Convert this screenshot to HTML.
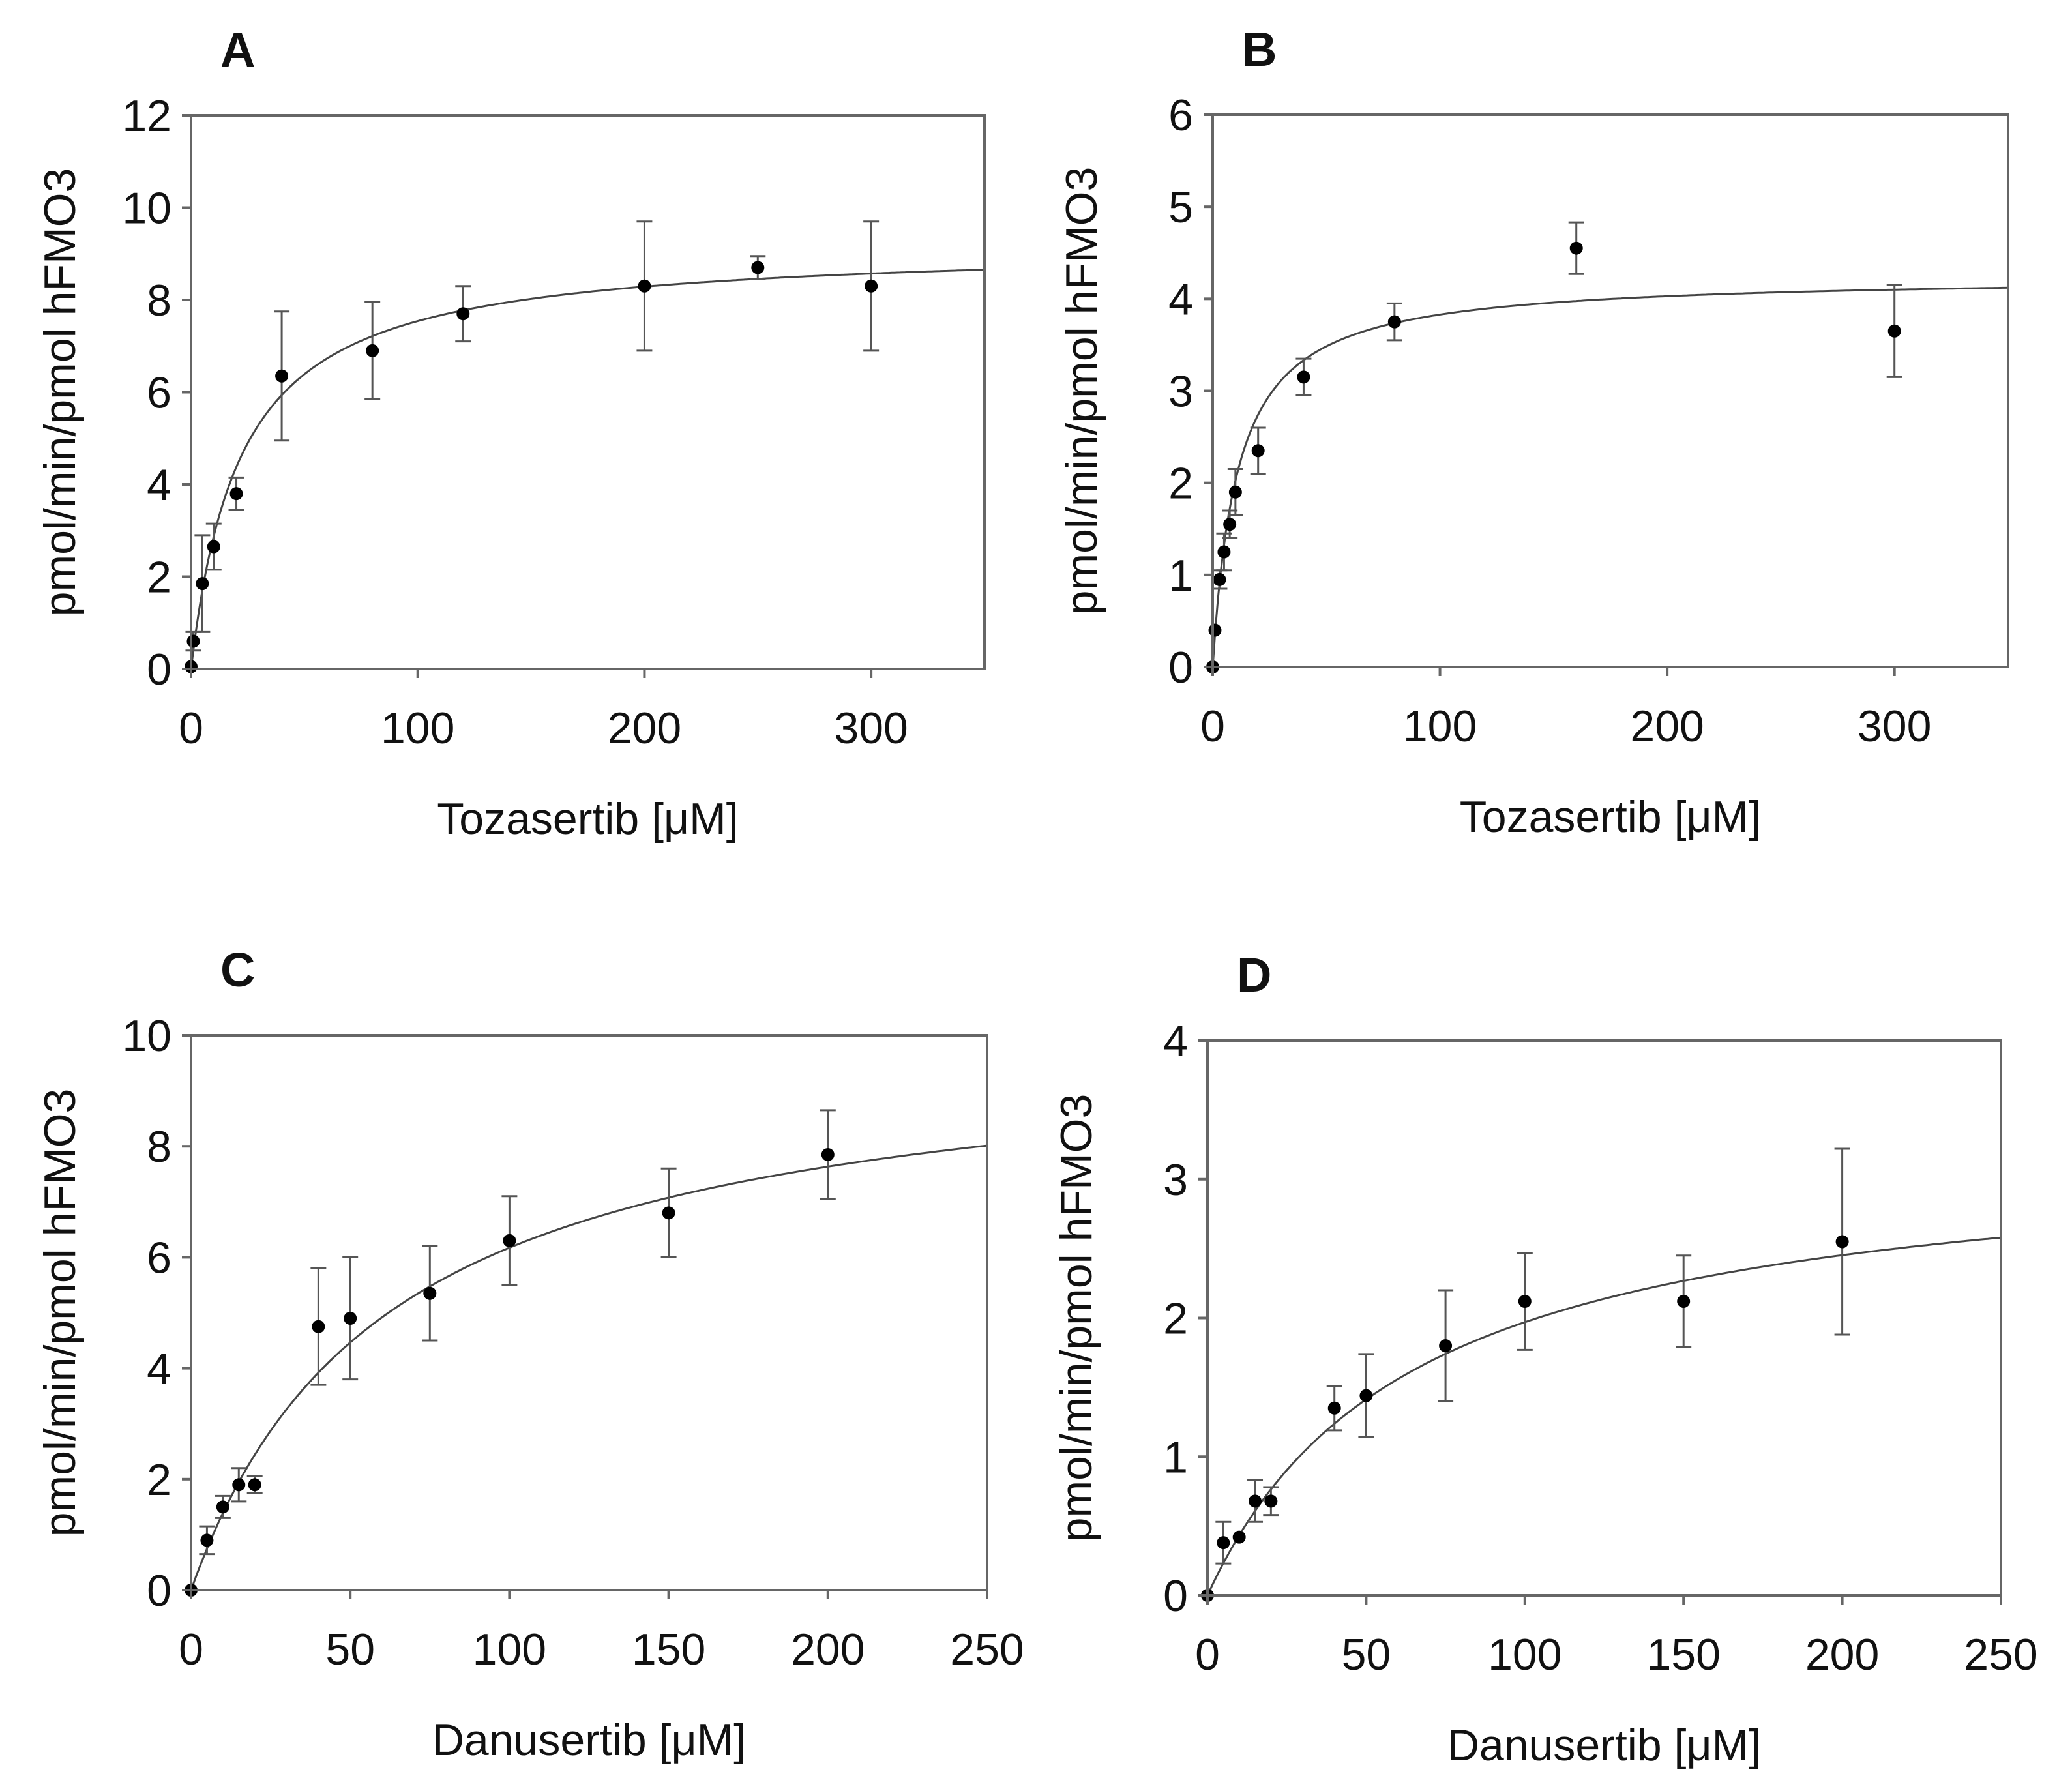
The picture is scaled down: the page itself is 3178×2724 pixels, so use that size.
<!DOCTYPE html>
<html><head><meta charset="utf-8"><style>
html,body{margin:0;padding:0;background:#fff;}
svg{display:block;font-family:"Liberation Sans",Arial,sans-serif;}
</style></head><body>
<svg id="fig" width="3178" height="2724" viewBox="0 0 3178 2724" xmlns="http://www.w3.org/2000/svg"></svg>
<script>
// Panel A data
const aX = [0,1,5,10,20,40,80,120,200,250,300];
const aY = [0.05,0.6,1.85,2.65,3.8,6.35,6.9,7.7,8.3,8.7,8.3];
const aErr = [0,0.2,1.05,0.5,0.35,1.4,1.05,0.6,1.4,0.25,1.4];
const aFit = [9.2,22];
const aXTicks = [0,100,200,300];
const aYTicks = [0,2,4,6,8,10,12];
// Panel B data
const bX = [0,1,3,5,7.5,10,20,40,80,160,300];
const bY = [0,0.4,0.95,1.25,1.55,1.9,2.35,3.15,3.75,4.55,3.65];
const bErr = [0,0,0.1,0.2,0.15,0.25,0.25,0.2,0.2,0.28,0.5];
const bFit = [4.25,11];
const bXTicks = [0,100,200,300];
const bYTicks = [0,1,2,3,4,5,6];
// Panel C data
const cX = [0,5,10,15,20,40,50,75,100,150,200];
const cY = [0,0.9,1.5,1.9,1.9,4.75,4.9,5.35,6.3,6.8,7.85];
const cErr = [0,0.25,0.2,0.3,0.15,1.05,1.1,0.85,0.8,0.8,0.8];
const cFit = [10,62];
const cXTicks = [0,50,100,150,200,250];
const cYTicks = [0,2,4,6,8,10];
// Panel D data
const dX = [0,5,10,15,20,40,50,75,100,150,200];
const dY = [0,0.38,0.42,0.68,0.68,1.35,1.44,1.8,2.12,2.12,2.55];
const dErr = [0,0.15,0,0.15,0.1,0.16,0.3,0.4,0.35,0.33,0.67];
const dFit = [3.25,65];
const dXTicks = [0,50,100,150,200,250];
const dYTicks = [0,1,2,3,4];

const NS="http://www.w3.org/2000/svg";
const svg=document.getElementById('fig');
function mk(tag,attrs,parent){const e=document.createElementNS(NS,tag);for(const k in attrs)e.setAttribute(k,attrs[k]);(parent||svg).appendChild(e);return e;}

function panel(id,letter,box,xs,ys,errs,fit,xt,yt,xmax,ymax,xtitle){
  const g=mk('g',{});
  
  
  const [L,R,T,B]=box;
  const sx=v=>L+(v/xmax)*(R-L);
  const sy=v=>B-(v/ymax)*(B-T);
  const lt=mk('text',{x:L+45,y:T-75,'font-size':74,'font-weight':'bold',fill:'#111'},g);
  lt.textContent=letter;
  
  
  let d='';
  for(let i=0;i<=300;i++){const x=xmax*i/300;const y=fit[0]*x/(fit[1]+x);d+=(i?'L':'M')+sx(x).toFixed(1)+' '+sy(y).toFixed(1);}
  const c=mk('path',{d:d,fill:'none',stroke:'#444',"stroke-width":3},g);
  
  
  xs.forEach((x,i)=>{
    const e=errs[i];
    if(e>0){
      const eb=mk('path',{d:`M${sx(x)} ${sy(ys[i]-e)}V${sy(ys[i]+e)}M${sx(x)-12} ${sy(ys[i]-e)}h24M${sx(x)-12} ${sy(ys[i]+e)}h24`,stroke:'#555','stroke-width':3,fill:'none'},g);
      
      
    }
    const p=mk('circle',{cx:sx(x),cy:sy(ys[i]),r:10,fill:'#000'},g);
    
    
  });
  const f=mk('rect',{x:L,y:T,width:R-L,height:B-T,fill:'none',stroke:'#666','stroke-width':4},g);
  
  
  xt.forEach(v=>{
    mk('line',{x1:sx(v),x2:sx(v),y1:B,y2:B+14,stroke:'#666','stroke-width':4},g);
    const t=mk('text',{x:sx(v),y:B+114,'font-size':68,'text-anchor':'middle',fill:'#111'},g);
    t.textContent=v;
    
    
  });
  yt.forEach(v=>{
    mk('line',{x1:L-14,x2:L,y1:sy(v),y2:sy(v),stroke:'#666','stroke-width':4},g);
    const t=mk('text',{x:L-30,y:sy(v)+24,'font-size':68,'text-anchor':'end',fill:'#111'},g);
    t.textContent=v;
    
    
  });
  const xtT=mk('text',{x:(L+R)/2,y:B+253,'font-size':68,'text-anchor':'middle',fill:'#111'},g);
  xtT.textContent=xtitle;
  
  
  const cy=(T+B)/2;
  const ytT=mk('text',{x:L-178,y:cy,'font-size':68,'text-anchor':'middle',fill:'#111',transform:`rotate(-90 ${L-178} ${cy})`},g);
  ytT.textContent='pmol/min/pmol hFMO3';
  
  
}
panel('a','A',[293,1510,177,1026],aX,aY,aErr,aFit,aXTicks,aYTicks,350,12,'Tozasertib [\u03bcM]');
panel('b','B',[1860,3080,176,1023],bX,bY,bErr,bFit,bXTicks,bYTicks,350,6,'Tozasertib [\u03bcM]');
panel('c','C',[293,1514,1588,2439],cX,cY,cErr,cFit,cXTicks,cYTicks,250,10,'Danusertib [\u03bcM]');
panel('d','D',[1852,3069,1596,2447],dX,dY,dErr,dFit,dXTicks,dYTicks,250,4,'Danusertib [\u03bcM]');
</script>
</body></html>
